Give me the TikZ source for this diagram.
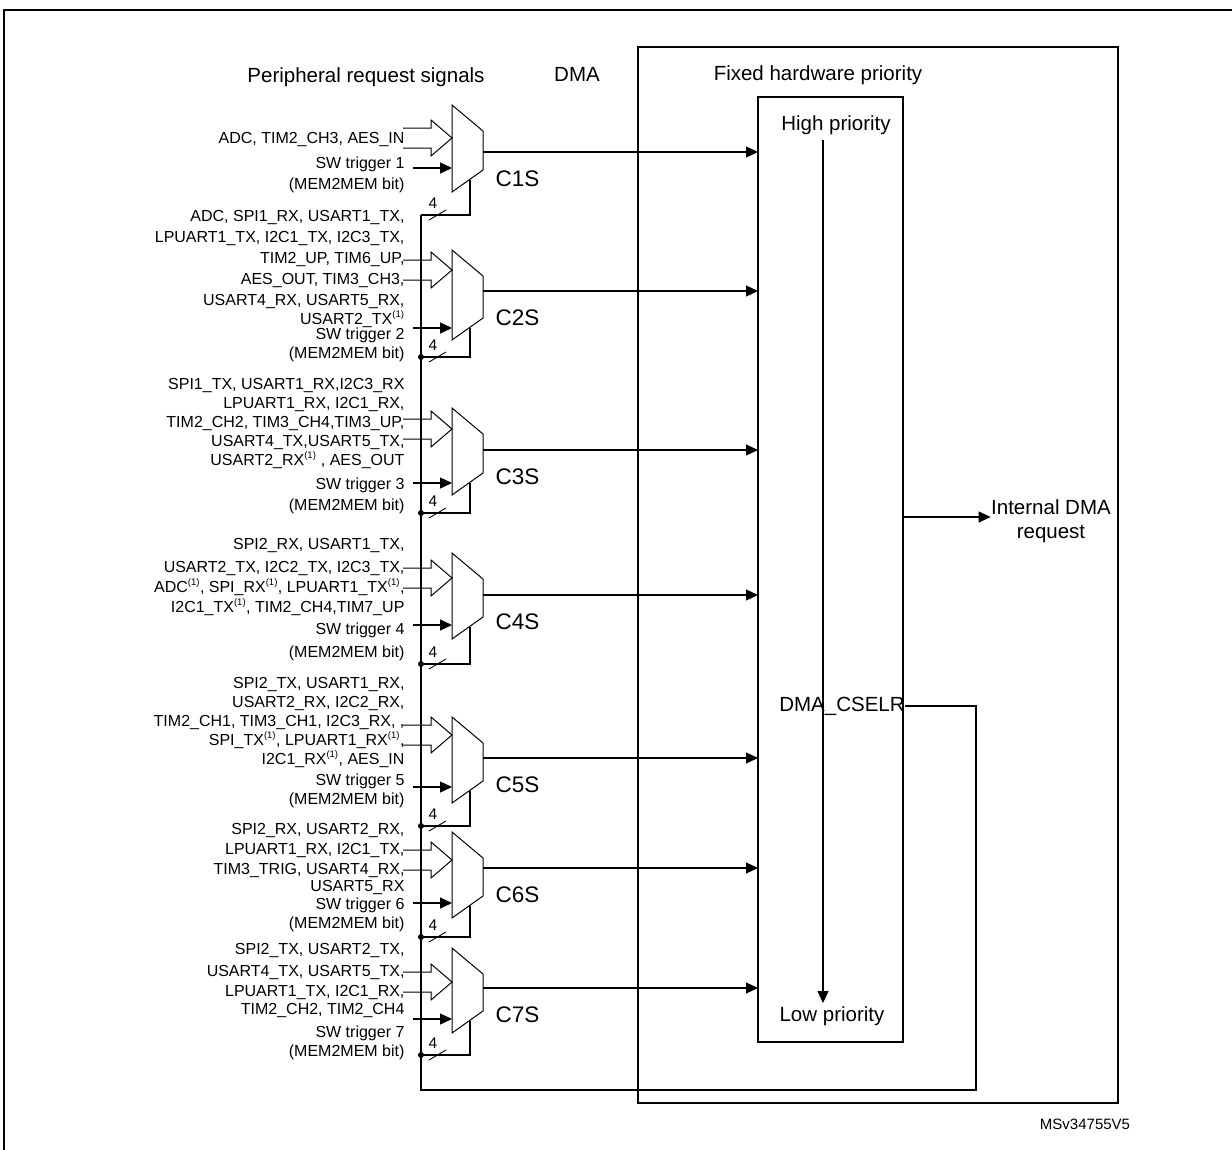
\documentclass[tikz,border=0pt]{standalone}
\usepackage{fontspec}
\setmainfont{Liberation Sans}
\usetikzlibrary{arrows.meta}
\begin{document}
\begin{tikzpicture}[x=1pt,y=-1pt,line width=1.1pt,
  tip/.style={-{Triangle[length=12pt,width=11pt]}},
  sig/.style={anchor=base east,font=\fontsize{16}{18}\selectfont,inner sep=0pt},
  head/.style={font=\fontsize{20.5}{24}\selectfont,inner sep=0pt},
  chl/.style={anchor=west,font=\fontsize{22.5}{24}\selectfont,inner sep=0pt},
  mux/.style={line width=1pt},
  dot/.style={circle,fill=black,inner sep=0pt,minimum size=6pt}]
\useasboundingbox (0,0) rectangle (1232,1149);
\clip (0,0) rectangle (1232,1149);
\draw (4,1160) -- (4,10) -- (1240,10);
% boxes
\draw (638,47) rectangle (1118,1103);
\draw (758,97) rectangle (903,1042);
\node[head] (hdrP) at (366,77) {Peripheral request signals};
\node[head] (hdrD) at (577,74) {DMA};
\node[head] (hdrF) at (818,75) {Fixed hardware priority};
\node[head] (hi) at (836,125) {High priority};
\node[head] (lo) at (832,1016) {Low priority};
\node[head] (csel) at (842,706) {DMA\_CSELR};
\node[head,align=center] (idr) at (1051,521) {Internal DMA\\[0pt]request};
\coordinate (pa) at (823,140);
\coordinate (pb) at (823,1003);
\draw[tip] (pa) -- (pb);
\coordinate (ia) at (903,517);
\draw[tip] (ia) -- (idr.west|-ia);
\node[font=\fontsize{15}{17}\selectfont] (ver) at (1085,1124) {MSv34755V5};
% muxes: y0/top/bot/yh/ys/ysel/n
\foreach \yo/\yt/\yb/\yh/\ys/\yl/\n in {152/105/192/138/168/215/1,291/250/340/270/328/357/2,450/408/495/429/483/513/3,595/553/639/578/625/664/4,758/717/803/735/787/826/5,868/832/918/860/903/937/6,988/948/1033/982/1019/1055/7}{
  \draw[mux] (452,\yt) -- (483,\yt+26) -- (483,\yb-22) -- (452,\yb) -- cycle;
  \coordinate (m\n) at (483,\yo);
  \coordinate (t\n) at (758,\yo);
  \draw[tip] (m\n) -- (t\n);
  \node[chl] (c\n) at (495,\yo+27) {C\n S};
  \draw[line width=1pt] (403,\yh-10) -- (431,\yh-10) -- (431,\yh-18) -- (452,\yh) -- (431,\yh+18) -- (431,\yh+10) -- (403,\yh+10);
  \coordinate (s\n) at (413,\ys);
  \coordinate (e\n) at (452,\ys);
  \draw[tip] (s\n) -- (e\n);
  \draw (470,\yb-12) -- (470,\yl) -- (421,\yl);
  \draw[line width=0.9pt] (429,\yl+5) -- (446,\yl-5);
  \node[font=\fontsize{15.5}{17}\selectfont,inner sep=0pt] at (433,\yl-12) {4};
}
\foreach \yl in {357,513,664,826,937,1055} \node[dot] at (421,\yl) {};
\draw (421,215) -- (421,1090) -- (976,1090) -- (976,706) -- (csel.east);
% labels
\newcommand{\sx}[1]{#1\textsuperscript{\fontsize{9.5}{10}\selectfont(1)}}
\foreach \y/\t in {
 137/{ADC, TIM2\_CH3, AES\_IN},162/{SW trigger 1},183/{(MEM2MEM bit)},
 215/{ADC, SPI1\_RX, USART1\_TX,},236/{LPUART1\_TX, I2C1\_TX, I2C3\_TX,},257/{TIM2\_UP, TIM6\_UP,},278/{AES\_OUT, TIM3\_CH3,},299/{USART4\_RX, USART5\_RX,},318/{\sx{USART2\_TX}},333/{SW trigger 2},352/{(MEM2MEM bit)},
 383/{SPI1\_TX, USART1\_RX,I2C3\_RX},402/{LPUART1\_RX, I2C1\_RX,},421/{TIM2\_CH2, TIM3\_CH4,TIM3\_UP,},440/{USART4\_TX,USART5\_TX,},459/{\sx{USART2\_RX} , AES\_OUT},483/{SW trigger 3},504/{(MEM2MEM bit)},
 543/{SPI2\_RX, USART1\_TX,},566/{USART2\_TX, I2C2\_TX, I2C3\_TX,},586/{\sx{ADC}, \sx{SPI\_RX}, \sx{LPUART1\_TX},},606/{\sx{I2C1\_TX}, TIM2\_CH4,TIM7\_UP},628/{SW trigger 4},651/{(MEM2MEM bit)},
 682/{SPI2\_TX, USART1\_RX,},701/{USART2\_RX, I2C2\_RX,},720/{TIM2\_CH1, TIM3\_CH1, I2C3\_RX, ,},739/{\sx{SPI\_TX}, \sx{LPUART1\_RX},},758/{\sx{I2C1\_RX}, AES\_IN},779/{SW trigger 5},798/{(MEM2MEM bit)},
 828/{SPI2\_RX, USART2\_RX,},848/{LPUART1\_RX, I2C1\_TX,},868/{TIM3\_TRIG, USART4\_RX,},885/{USART5\_RX},903/{SW trigger 6},922/{(MEM2MEM bit)},
 948/{SPI2\_TX, USART2\_TX,},970/{USART4\_TX, USART5\_TX,},990/{LPUART1\_TX, I2C1\_RX,},1008/{TIM2\_CH2, TIM2\_CH4},1031/{SW trigger 7},1050/{(MEM2MEM bit)}}
 \node[sig] at (405,\y+6) {\t};
\end{tikzpicture}
\end{document}
